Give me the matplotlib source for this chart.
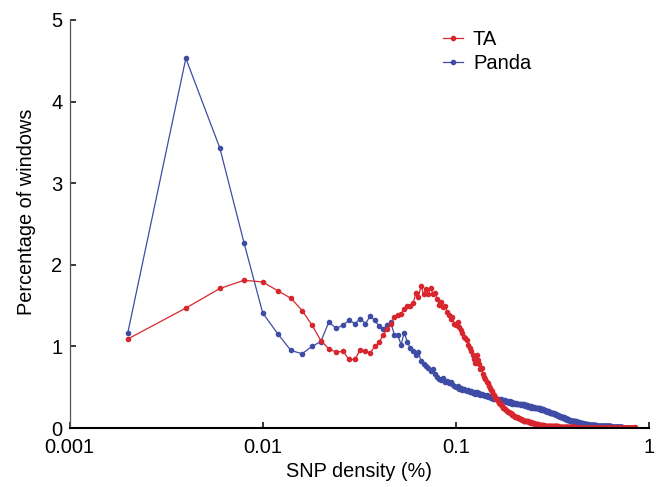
import numpy as np
import matplotlib
matplotlib.use("Agg")
import matplotlib.pyplot as plt
from matplotlib.ticker import FixedLocator, NullLocator

plt.rcParams['font.family'] = ['Liberation Sans', 'DejaVu Sans']

# bin width of SNP density (%) windows
bin_width = 0.002

ta_values = [
    1.09, 1.47, 1.71, 1.81, 1.79, 1.68, 1.59, 1.44, 1.26, 1.07,
    0.97, 0.93, 0.94, 0.84, 0.84, 0.96, 0.94, 0.92, 1.00, 1.05,
    1.14, 1.21, 1.28, 1.36, 1.38, 1.40, 1.46, 1.49, 1.50, 1.53,
    1.65, 1.61, 1.74, 1.64, 1.70, 1.64, 1.72, 1.64, 1.66, 1.58,
    1.51, 1.54, 1.48, 1.50, 1.42, 1.38, 1.34, 1.36, 1.28, 1.26,
    1.30, 1.24, 1.20, 1.16, 1.12, 1.10, 1.08, 1.02, 0.98, 0.94,
    0.90, 0.85, 0.80, 0.89, 0.83, 0.79, 0.72, 0.73, 0.66, 0.62,
    0.60, 0.57, 0.55, 0.52, 0.49, 0.47, 0.45, 0.42, 0.40, 0.38,
    0.36, 0.35, 0.33, 0.31, 0.30, 0.29, 0.27, 0.25, 0.24, 0.23,
    0.22, 0.21, 0.20, 0.20, 0.19, 0.18, 0.17, 0.16, 0.16, 0.15,
    0.14, 0.14, 0.13, 0.13, 0.12, 0.12, 0.11, 0.11, 0.11, 0.10,
    0.10, 0.09, 0.09, 0.09, 0.08, 0.08, 0.08, 0.08, 0.07, 0.07,
    0.07, 0.07, 0.06, 0.06, 0.06, 0.06, 0.06, 0.05, 0.05, 0.05,
    0.05, 0.05, 0.05, 0.04, 0.04, 0.04, 0.04, 0.04, 0.04, 0.04,
    0.04, 0.03, 0.04, 0.03, 0.03, 0.03, 0.03, 0.03, 0.03, 0.03,
    0.03, 0.03, 0.02, 0.03, 0.02, 0.02, 0.02, 0.02, 0.02, 0.02,
    0.02, 0.02, 0.02, 0.02, 0.02, 0.02, 0.02, 0.015, 0.02, 0.015,
    0.015, 0.015, 0.015, 0.015, 0.012, 0.015, 0.012, 0.012, 0.012, 0.012,
    0.010, 0.012, 0.010, 0.010, 0.010, 0.010, 0.010, 0.010, 0.009, 0.010,
    0.009, 0.009, 0.008, 0.009, 0.008, 0.008, 0.008, 0.008, 0.008, 0.008,
    0.007, 0.008, 0.007, 0.007, 0.007, 0.007, 0.006, 0.007, 0.006, 0.006,
    0.006, 0.006, 0.005, 0.006, 0.005, 0.005, 0.005, 0.005, 0.005, 0.004,
    0.004, 0.004, 0.004, 0.004, 0.004, 0.003, 0.004, 0.003, 0.003, 0.003,
    0.003, 0.003, 0.003, 0.002, 0.003, 0.002, 0.002, 0.002, 0.002, 0.002,
    0.002, 0.002, 0.002, 0.002, 0.001, 0.002, 0.001, 0.001, 0.001, 0.001,
    0.001, 0.001, 0.001, 0.001, 0.001, 0.0, 0.001, 0.0, 0.0, 0.0,
    0.0, 0.0, 0.0, 0.0, 0.0, 0.0, 0.0, 0.0, 0.0, 0.0,
    0.0, 0.0, 0.0, 0.0, 0.0, 0.0, 0.0, 0.0, 0.0, 0.0,
    0.0, 0.0, 0.0, 0.0, 0.0, 0.0, 0.0, 0.0, 0.0, 0.0,
    0.0, 0.0, 0.0, 0.0, 0.0, 0.0, 0.0, 0.0, 0.0, 0.0,
    0.0, 0.0, 0.0, 0.0, 0.0, 0.0, 0.0, 0.0, 0.0, 0.0,
    0.0, 0.0, 0.0, 0.0, 0.0, 0.0, 0.0, 0.0, 0.0, 0.0,
    0.0, 0.0, 0.0, 0.0, 0.0, 0.0, 0.0, 0.0, 0.0, 0.0,
    0.0, 0.0, 0.0, 0.0, 0.0, 0.0, 0.0, 0.0, 0.0, 0.0,
    0.0, 0.0, 0.0, 0.0, 0.0, 0.0, 0.0, 0.0, 0.0, 0.0,
    0.0, 0.0, 0.0, 0.0, 0.0, 0.0, 0.0, 0.0, 0.0, 0.0,
    0.0, 0.0, 0.0, 0.0, 0.0, 0.0, 0.0, 0.0, 0.0, 0.0,
    0.0, 0.0, 0.0, 0.0, 0.0, 0.0, 0.0, 0.0, 0.0, 0.0,
    0.0, 0.0, 0.0, 0.0, 0.0, 0.0, 0.0, 0.0, 0.0, 0.0,
    0.0, 0.0, 0.0, 0.0, 0.0, 0.0, 0.0, 0.0, 0.0, 0.0,
    0.0, 0.0, 0.0, 0.0, 0.0, 0.0, 0.0, 0.0, 0.0, 0.0,
    0.0, 0.0, 0.0, 0.0, 0.0, 0.0, 0.0, 0.0, 0.0, 0.0,
    0.0, 0.0, 0.0, 0.0, 0.015,
]

panda_values = [
    1.16, 4.53, 3.43, 2.27, 1.41, 1.15, 0.95, 0.91, 1.00, 1.06,
    1.30, 1.22, 1.26, 1.32, 1.28, 1.34, 1.28, 1.37, 1.32, 1.25,
    1.21, 1.26, 1.30, 1.14, 1.14, 1.02, 1.17, 1.06, 0.98, 0.94,
    0.89, 0.93, 0.82, 0.78, 0.76, 0.73, 0.70, 0.72, 0.66, 0.62,
    0.60, 0.59, 0.61, 0.57, 0.58, 0.55, 0.56, 0.54, 0.52, 0.50,
    0.51, 0.48, 0.49, 0.47, 0.48, 0.46, 0.45, 0.47, 0.44, 0.45,
    0.43, 0.44, 0.42, 0.44, 0.42, 0.43, 0.41, 0.42, 0.40, 0.41,
    0.39, 0.40, 0.38, 0.39, 0.38, 0.37, 0.38, 0.36, 0.37, 0.36,
    0.35, 0.36, 0.34, 0.35, 0.34, 0.35, 0.33, 0.34, 0.33, 0.34,
    0.32, 0.33, 0.32, 0.31, 0.33, 0.31, 0.32, 0.30, 0.31, 0.31,
    0.30, 0.31, 0.29, 0.30, 0.30, 0.29, 0.30, 0.28, 0.29, 0.29,
    0.28, 0.29, 0.28, 0.27, 0.28, 0.27, 0.28, 0.26, 0.27, 0.27,
    0.26, 0.27, 0.25, 0.26, 0.26, 0.25, 0.26, 0.24, 0.25, 0.25,
    0.24, 0.25, 0.24, 0.23, 0.24, 0.23, 0.24, 0.22, 0.23, 0.23,
    0.22, 0.23, 0.22, 0.21, 0.22, 0.21, 0.21, 0.20, 0.21, 0.21,
    0.20, 0.20, 0.19, 0.20, 0.19, 0.18, 0.19, 0.18, 0.18, 0.17,
    0.18, 0.17, 0.17, 0.16, 0.17, 0.16, 0.16, 0.15, 0.16, 0.15,
    0.15, 0.14, 0.15, 0.14, 0.14, 0.13, 0.14, 0.13, 0.13, 0.12,
    0.13, 0.12, 0.12, 0.11, 0.12, 0.11, 0.11, 0.11, 0.10, 0.11,
    0.10, 0.10, 0.10, 0.09, 0.10, 0.09, 0.09, 0.09, 0.09, 0.08,
    0.09, 0.08, 0.08, 0.08, 0.08, 0.08, 0.07, 0.08, 0.07, 0.07,
    0.07, 0.07, 0.07, 0.06, 0.07, 0.06, 0.07, 0.06, 0.06, 0.06,
    0.06, 0.06, 0.06, 0.05, 0.06, 0.05, 0.06, 0.05, 0.05, 0.05,
    0.05, 0.05, 0.05, 0.05, 0.04, 0.05, 0.05, 0.04, 0.05, 0.04,
    0.04, 0.05, 0.04, 0.04, 0.04, 0.04, 0.04, 0.04, 0.04, 0.04,
    0.04, 0.04, 0.04, 0.035, 0.04, 0.035, 0.035, 0.035, 0.035, 0.035,
    0.035, 0.03, 0.035, 0.03, 0.03, 0.035, 0.03, 0.03, 0.03, 0.03,
    0.03, 0.03, 0.028, 0.03, 0.028, 0.028, 0.028, 0.027, 0.028, 0.027,
    0.027, 0.026, 0.027, 0.026, 0.026, 0.025, 0.026, 0.025, 0.025, 0.025,
    0.025, 0.024, 0.025, 0.024, 0.024, 0.023, 0.024, 0.023, 0.023, 0.022,
    0.022, 0.022, 0.021, 0.022, 0.021, 0.021, 0.020, 0.021, 0.020, 0.020,
    0.020, 0.019, 0.020, 0.019, 0.019, 0.018, 0.019, 0.018, 0.018, 0.017,
    0.017, 0.017, 0.016, 0.017, 0.016, 0.016, 0.015, 0.016, 0.015, 0.015,
    0.015, 0.014, 0.015, 0.014, 0.014, 0.013, 0.014, 0.013, 0.013, 0.012,
    0.012, 0.012, 0.011, 0.012, 0.011, 0.011, 0.010, 0.011, 0.010, 0.010,
    0.010, 0.009, 0.010, 0.009, 0.009, 0.008, 0.009, 0.008, 0.008, 0.007,
    0.007, 0.007, 0.006, 0.006, 0.006, 0.005, 0.005, 0.005, 0.004, 0.004,
    0.004, 0.003, 0.003, 0.002, 0.001,
]

series_names = ["TA", "Panda"]
x_ticks = [0.001, 0.01, 0.1, 1]
x_tick_labels = ["0.001", "0.01", "0.1", "1"]
y_ticks = [0, 1, 2, 3, 4, 5]

ta_x = bin_width * np.arange(1, len(ta_values) + 1)
panda_x = bin_width * np.arange(1, len(panda_values) + 1)

red = "#d8262e"
blue = "#3e4ca6"

fig = plt.figure(figsize=(6.59, 4.87), dpi=100)
ax = fig.add_axes([0.1055, 0.1211, 0.8795, 0.8379])

ax.plot(panda_x, panda_values, color=blue, lw=0.9, marker='o', ms=3.0,
        mec=blue, mfc=blue, label=series_names[1], zorder=2)
ax.plot(ta_x, ta_values, color=red, lw=0.9, marker='o', ms=3.0,
        mec=red, mfc=red, label=series_names[0], zorder=2.1)

ax.set_xscale('log')
ax.set_xlim(0.001, 1)
ax.set_ylim(0, 5)
ax.xaxis.set_major_locator(FixedLocator(x_ticks))
ax.xaxis.set_minor_locator(NullLocator())
ax.set_xticklabels(x_tick_labels)
ax.set_yticks(y_ticks)

for s in ['top', 'right']:
    ax.spines[s].set_visible(False)
ax.spines['left'].set_color('#555555')
ax.spines['left'].set_linewidth(0.9)
ax.spines['bottom'].set_color('black')
ax.spines['bottom'].set_linewidth(1.5)

ax.tick_params(axis='both', direction='in', length=4.5, width=1.1,
               labelsize=14.5, colors='black')
ax.tick_params(axis='x', pad=7)
ax.tick_params(axis='y', pad=5)

ax.set_xlabel("SNP density (%)", fontsize=14.3)
ax.set_ylabel("Percentage of windows", fontsize=14.3)
ax.xaxis.set_label_coords(0.5, -0.083)
ax.yaxis.set_label_coords(-0.058, 0.53)

handles, labels = ax.get_legend_handles_labels()
order = [1, 0]
leg = ax.legend([handles[i] for i in order], [labels[i] for i in order],
                loc='upper left', bbox_to_anchor=(0.6445, 0.975), frameon=False,
                fontsize=14.5, handlelength=1.0, handletextpad=0.48,
                labelspacing=0.26, borderaxespad=0, borderpad=0)

fig.savefig("out.png", dpi=100)
